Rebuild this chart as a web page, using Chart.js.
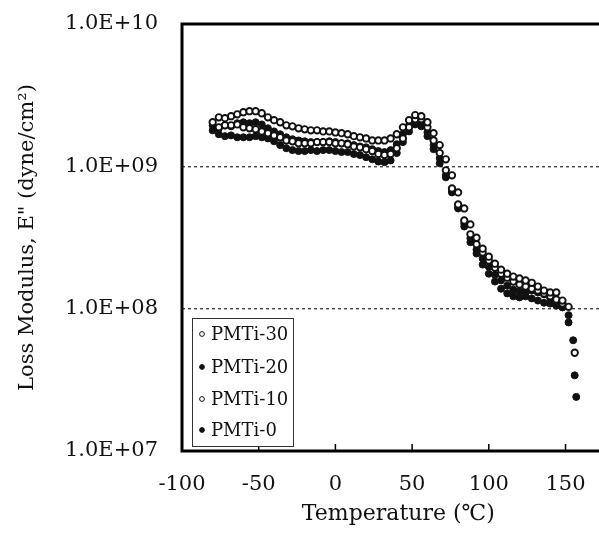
<!DOCTYPE html>
<html><head><meta charset="utf-8">
<script src="https://cdn.jsdelivr.net/npm/chart.js@4"></script>
<style>html,body{margin:0;padding:0;overflow:hidden;background:#fff;width:599px;height:535px}canvas{display:block}</style>
</head><body>
<canvas id="c" width="620" height="535" style="width:620px;height:535px"></canvas>
<script>
const SERIES_LABELS = ['PMTi-30', 'PMTi-20', 'PMTi-10', 'PMTi-0'];
const SERIES_OPEN = [true, false, true, false];

const T_PMTI30 = [-80,-76,-72,-68,-64,-60,-56,-52,-48,-44,-40,-36,-32,-28,-24,-20,-16,-12,-8,-4,0,4,8,12,16,20,24,28,32,36,40,44,48,52,56,60,64,68,72,76,80,84,88,92,96,100,104,108,112,116,120,124,128,132,136,140,144,148,152,156];
const E_PMTI30 = [2.04e9,2.21e9,2.18e9,2.25e9,2.32e9,2.40e9,2.44e9,2.44e9,2.36e9,2.21e9,2.11e9,2.04e9,1.94e9,1.91e9,1.85e9,1.82e9,1.79e9,1.79e9,1.76e9,1.76e9,1.73e9,1.71e9,1.68e9,1.63e9,1.60e9,1.57e9,1.52e9,1.52e9,1.52e9,1.57e9,1.68e9,1.88e9,2.11e9,2.29e9,2.25e9,2.04e9,1.71e9,1.41e9,1.12e9,8.64e8,6.56e8,5.06e8,3.91e8,3.15e8,2.64e8,2.32e8,2.07e8,1.88e8,1.76e8,1.68e8,1.63e8,1.58e8,1.52e8,1.43e8,1.34e8,1.30e8,1.30e8,1.14e8,1.03e8,4.9e7];

const T_PMTI20 = [-80,-76,-72,-68,-64,-60,-56,-52,-48,-44,-40,-36,-32,-28,-24,-20,-16,-12,-8,-4,0,4,8,12,16,20,24,28,32,36,40,44,48,52,56,60,64,68,72,76,80,84,88,92,96,100,104,108,112,116,120,124,128,132,136,140,144,148,152,155,157];
const E_PMTI20 = [1.94e9,1.85e9,1.94e9,1.91e9,2.01e9,2.04e9,2.01e9,2.04e9,1.97e9,1.85e9,1.76e9,1.68e9,1.60e9,1.55e9,1.52e9,1.50e9,1.48e9,1.48e9,1.48e9,1.50e9,1.48e9,1.45e9,1.45e9,1.41e9,1.38e9,1.36e9,1.32e9,1.28e9,1.26e9,1.30e9,1.43e9,1.68e9,1.94e9,2.11e9,2.01e9,1.73e9,1.41e9,1.14e9,8.64e8,6.56e8,5.06e8,3.97e8,3.12e8,2.60e8,2.25e8,1.97e8,1.73e8,1.58e8,1.45e8,1.36e8,1.32e8,1.32e8,1.34e8,1.30e8,1.26e8,1.195e8,1.14e8,1.067e8,9.0e7,6.0e7,2.4e7];

const T_PMTI10 = [-76,-72,-68,-64,-60,-56,-52,-48,-44,-40,-36,-32,-28,-24,-20,-16,-12,-8,-4,0,4,8,12,16,20,24,28,32,36,40,44,48,52,56,60,64,68,72,76,80,84,88,92,96,100,104,108,112,116,120,124,128,132,136,140,144,148];
const E_PMTI10 = [1.88e9,1.94e9,1.94e9,1.97e9,1.88e9,1.85e9,1.82e9,1.76e9,1.71e9,1.65e9,1.60e9,1.52e9,1.50e9,1.45e9,1.45e9,1.45e9,1.48e9,1.48e9,1.48e9,1.45e9,1.45e9,1.43e9,1.38e9,1.36e9,1.32e9,1.28e9,1.22e9,1.20e9,1.22e9,1.34e9,1.57e9,1.88e9,2.14e9,2.14e9,1.88e9,1.52e9,1.24e9,9.37e8,6.99e8,5.40e8,4.17e8,3.33e8,2.84e8,2.48e8,2.18e8,1.94e8,1.76e8,1.65e8,1.55e8,1.48e8,1.43e8,1.38e8,1.34e8,1.28e8,1.22e8,1.16e8,1.085e8];

const T_PMTI0 = [-80,-76,-72,-68,-64,-60,-56,-52,-48,-44,-40,-36,-32,-28,-24,-20,-16,-12,-8,-4,0,4,8,12,16,20,24,28,32,36,40,44,48,52,56,60,64,68,72,76,80,84,88,92,96,100,104,108,112,116,120,124,128,132,136,140,144,148,152,156];
const E_PMTI0 = [1.79e9,1.68e9,1.63e9,1.65e9,1.60e9,1.60e9,1.60e9,1.63e9,1.60e9,1.57e9,1.50e9,1.41e9,1.34e9,1.30e9,1.28e9,1.28e9,1.30e9,1.28e9,1.30e9,1.30e9,1.28e9,1.26e9,1.26e9,1.22e9,1.20e9,1.16e9,1.12e9,1.08e9,1.07e9,1.10e9,1.24e9,1.48e9,1.76e9,1.97e9,1.91e9,1.63e9,1.32e9,1.05e9,8.37e8,6.67e8,5.14e8,3.78e8,2.93e8,2.44e8,2.04e8,1.76e8,1.55e8,1.38e8,1.28e8,1.22e8,1.20e8,1.22e8,1.18e8,1.14e8,1.10e8,1.085e8,1.05e8,1.02e8,8.0e7,3.4e7];

const X_TICKS = [-100, -50, 0, 50, 100, 150];
const X_TICK_LABELS = ['-100', '-50', '0', '50', '100', '150'];
const Y_TICKS = [1e7, 1e8, 1e9, 1e10];
const Y_TICK_LABELS = ['1.0E+07', '1.0E+08', '1.0E+09', '1.0E+10'];
const X_MIN = -100, X_MAX = 182, Y_MIN = 1e7, Y_MAX = 1e10;
const X_TITLE = 'Temperature (\u2103)';
const Y_TITLE = 'Loss Modulus, E" (dyne/cm\u00B2)';

const SERIES_T = [T_PMTI30, T_PMTI20, T_PMTI10, T_PMTI0];
const SERIES_E = [E_PMTI30, E_PMTI20, E_PMTI10, E_PMTI0];
const DRAW_ORDER = [0, 2, 1, 3];

const FONT = 'DejaVu Serif';
const INK = '#111';

const datasets = SERIES_LABELS.map((lab, i) => ({
  label: lab,
  data: SERIES_T[i].map((t, k) => ({x: t, y: SERIES_E[i][k]})),
  showLine: false,
  order: DRAW_ORDER[i],
  pointRadius: SERIES_OPEN[i] ? 3.2 : 3.5,
  pointBorderWidth: SERIES_OPEN[i] ? 1.9 : 1,
  pointBackgroundColor: SERIES_OPEN[i] ? '#fff' : INK,
  pointBorderColor: INK,
  pointHoverRadius: 3.5
}));

const framePlugin = {
  id: 'frame',
  afterDatasetsDraw(chart) {
    const {ctx, chartArea: a} = chart;
    ctx.save();
    ctx.strokeStyle = '#000';
    ctx.lineWidth = 3;
    ctx.strokeRect(a.left, a.top, a.right - a.left, a.bottom - a.top);
    const xs = chart.scales.x;
    ctx.lineWidth = 1.5;
    X_TICKS.forEach(v => {
      const px = xs.getPixelForValue(v);
      ctx.beginPath();
      ctx.moveTo(px, a.bottom);
      ctx.lineTo(px, a.bottom - 7);
      ctx.stroke();
    });
    ctx.restore();
  }
};

const legendPlugin = {
  id: 'boxLegend',
  afterDraw(chart) {
    const {ctx, chartArea: a} = chart;
    const bx = a.left + 10, by = a.bottom - 133, bw = 101, bh = 128;
    ctx.save();
    ctx.fillStyle = '#fff';
    ctx.fillRect(bx, by, bw, bh);
    ctx.strokeStyle = '#333';
    ctx.lineWidth = 1;
    ctx.strokeRect(bx + 0.5, by + 0.5, bw, bh);
    const rows = [16, 49, 81, 112];
    ctx.font = '18px "' + FONT + '"';
    ctx.textBaseline = 'middle';
    ctx.textAlign = 'left';
    SERIES_LABELS.forEach((lab, i) => {
      const y = by + rows[i];
      ctx.beginPath();
      ctx.arc(bx + 10, y, 2.4, 0, Math.PI * 2);
      ctx.fillStyle = SERIES_OPEN[i] ? '#fff' : INK;
      ctx.fill();
      ctx.lineWidth = 1;
      ctx.strokeStyle = INK;
      ctx.stroke();
      ctx.fillStyle = INK;
      ctx.fillText(lab, bx + 19, y + 1);
    });
    ctx.restore();
  }
};

new Chart(document.getElementById('c'), {
  type: 'scatter',
  data: {datasets},
  options: {
    responsive: false,
    animation: false,
    layout: {padding: {top: 24, right: 0, bottom: 0, left: 0}},
    plugins: {legend: {display: false}, tooltip: {enabled: false}},
    scales: {
      x: {
        type: 'linear', min: X_MIN, max: X_MAX,
        afterBuildTicks: s => { s.ticks = X_TICKS.map(v => ({value: v})); },
        afterFit: s => { s.height = 84; s.paddingLeft = 0; s.paddingRight = 0; },
        ticks: {
          callback: v => X_TICK_LABELS[X_TICKS.indexOf(v)],
          font: {family: FONT, size: 21}, color: INK, padding: 13,
          maxRotation: 0, autoSkip: false
        },
        grid: {display: false},
        border: {display: false},
        title: {display: true, text: X_TITLE, color: INK, font: {family: FONT, size: 22}, padding: {top: 0, bottom: 8}}
      },
      y: {
        type: 'logarithmic', min: Y_MIN, max: Y_MAX,
        afterBuildTicks: s => { s.ticks = Y_TICKS.map(v => ({value: v})); },
        afterFit: s => { s.width = 182; s.paddingTop = 0; s.paddingBottom = 0; },
        ticks: {
          callback: v => Y_TICK_LABELS[Y_TICKS.indexOf(v)],
          font: {family: FONT, size: 21}, color: INK, padding: 24, autoSkip: false
        },
        grid: {
          drawTicks: false, lineWidth: 1.4,
          color: c => (c.tick && (c.tick.value === 1e8 || c.tick.value === 1e9)) ? '#444' : 'rgba(0,0,0,0)',
          borderDash: [3, 3]
        },
        border: {display: false, dash: [3, 3]},
        title: {display: true, text: Y_TITLE, color: INK, font: {family: FONT, size: 21}, padding: {top: 15, bottom: 0}}
      }
    }
  },
  plugins: [framePlugin, legendPlugin]
});
</script>
</body></html>
